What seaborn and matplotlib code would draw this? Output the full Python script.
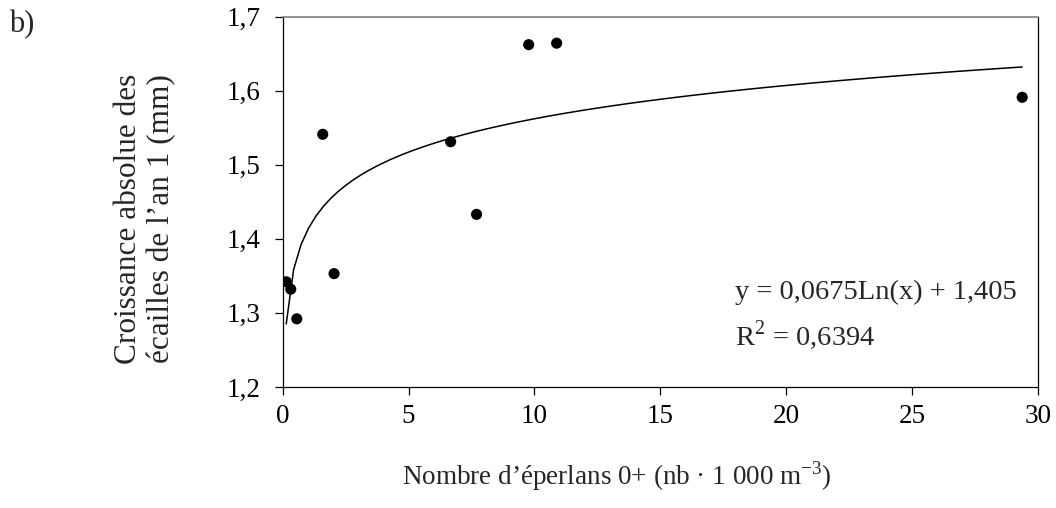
import matplotlib
matplotlib.use("Agg")
import matplotlib.pyplot as plt
import seaborn as sns
import pandas as pd

# ---- data ----
density = [0.14, 0.32, 0.56, 1.59, 2.04, 6.67, 7.70, 9.77, 10.88, 29.37]
growth = [1.342, 1.332, 1.292, 1.541, 1.353, 1.531, 1.433, 1.662, 1.664, 1.591]
x_ticks = [0, 5, 10, 15, 20, 25, 30]
y_ticks = [1.2, 1.3, 1.4, 1.5, 1.6, 1.7]
y_tick_labels = ["1,2", "1,3", "1,4", "1,5", "1,6", "1,7"]
equation_text = "y = 0,0675Ln(x) + 1,405"
r2_text = "R$^{2}$ = 0,6394"

df = pd.DataFrame({"density": density, "growth": growth})

sns.set_style("ticks")
plt.rcParams["font.family"] = ["Liberation Serif", "DejaVu Serif"]
plt.rcParams["mathtext.fontset"] = "custom"
plt.rcParams["mathtext.rm"] = "Liberation Serif"

fig = plt.figure(figsize=(10.56, 5.08), dpi=100)
ax = fig.add_axes([0.2677, 0.2382, 0.7153, 0.7293])

sns.regplot(data=df, x="density", y="growth", logx=True, ci=None, ax=ax,
            scatter_kws=dict(s=64, color="black", edgecolor="none", alpha=1, zorder=3),
            line_kws=dict(color="black", lw=1.1, zorder=2))

ax.set_xlim(0, 30)
ax.set_ylim(1.2, 1.7)
ax.set_xticks(x_ticks)
ax.set_xticklabels([str(t) for t in x_ticks])
ax.set_yticks(y_ticks)
ax.set_yticklabels(y_tick_labels)
ax.tick_params(axis="both", labelsize=19.5, length=6, width=0.9, color="black",
               labelcolor="black", direction="out")
ax.tick_params(axis="y", pad=10)
ax.tick_params(axis="x", pad=6)

for side in ["left", "bottom", "right"]:
    ax.spines[side].set_visible(True)
    ax.spines[side].set_color("black")
    ax.spines[side].set_linewidth(0.9)
ax.spines["top"].set_visible(True)
ax.spines["top"].set_color("#808080")
ax.spines["top"].set_linewidth(1.2)

ax.set_xlabel("Nombre d\u2019\u00e9perlans 0+ (nb \u00b7 1 000 m$^{-3}$)", fontsize=19.5)
ax.xaxis.set_label_coords(0.443, -0.195)
ax.set_ylabel("Croissance absolue des\n\u00e9cailles de l\u2019an 1 (mm)", fontsize=22.5,
              linespacing=1.15, va="center", ha="center")
ax.yaxis.set_label_coords(-0.182, 0.455)

ax.text(0.599, 0.254, equation_text, transform=ax.transAxes, fontsize=20.5,
        ha="left", va="center")
ax.text(0.599, 0.141, r2_text, transform=ax.transAxes, fontsize=20.5,
        ha="left", va="center")

fig.text(0.009, 0.952, "b)", fontsize=22, ha="left", va="center")

fig.savefig("out.png", dpi=100, facecolor="white")
